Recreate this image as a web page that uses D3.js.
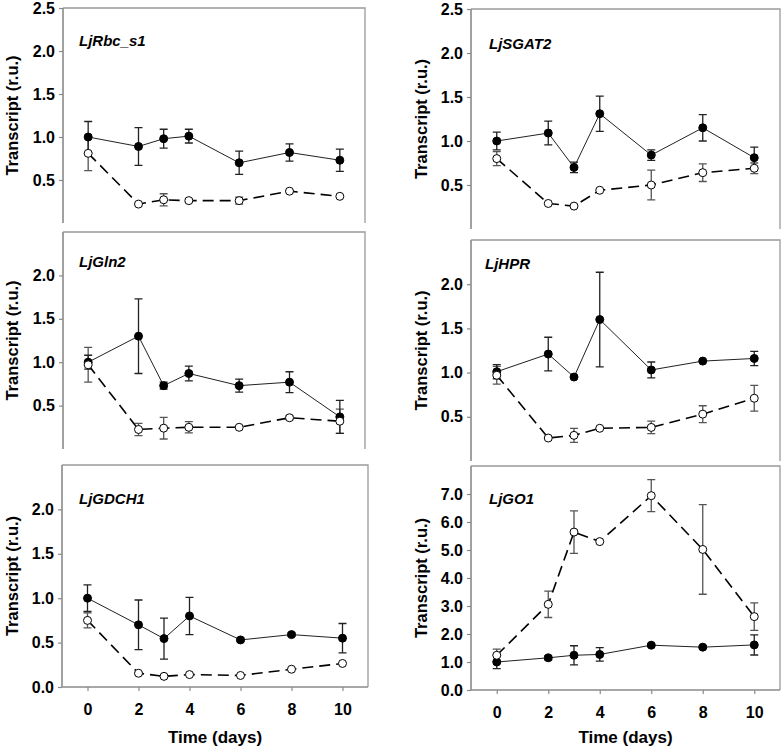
<!DOCTYPE html>
<html>
<head>
<meta charset="utf-8">
<script src="https://cdn.jsdelivr.net/npm/d3@7"></script>
<style>
  html, body { margin: 0; padding: 0; background: #fff; }
  svg { display: block; }
  text { font-family: "Liberation Sans", Arial, sans-serif; }
</style>
</head>
<body>
<svg id="chart" width="784" height="748"></svg>
<script>
// ---- data ----
const days = [0, 2, 3, 4, 6, 8, 10];
const xTicks = [0, 2, 4, 6, 8, 10];

const geneNames = ["LjRbc_s1", "LjSGAT2", "LjGln2", "LjHPR", "LjGDCH1", "LjGO1"];

// filled circles (solid line)
const rbcFilled    = [1.00, 0.89, 0.98, 1.01, 0.70, 0.82, 0.73];
const rbcFilledErr = [0.18, 0.22, 0.11, 0.08, 0.135, 0.10, 0.13];
// open circles (dashed line)
const rbcOpen      = [0.81, 0.22, 0.27, 0.26, 0.26, 0.37, 0.31];
const rbcOpenErr   = [0.20, 0.00, 0.07, 0.02, 0.04, 0.01, 0.00];

const sgatFilled    = [1.00, 1.09, 0.70, 1.31, 0.84, 1.15, 0.81];
const sgatFilledErr = [0.10, 0.135, 0.06, 0.20, 0.06, 0.15, 0.12];
const sgatOpen      = [0.80, 0.29, 0.26, 0.44, 0.50, 0.64, 0.69];
const sgatOpenErr   = [0.08, 0.00, 0.01, 0.00, 0.17, 0.10, 0.06];

const glnFilled    = [1.00, 1.30, 0.73, 0.87, 0.73, 0.77, 0.37];
const glnFilledErr = [0.08, 0.43, 0.04, 0.085, 0.075, 0.12, 0.19];
const glnOpen      = [0.97, 0.225, 0.24, 0.25, 0.25, 0.36, 0.32];
const glnOpenErr   = [0.20, 0.07, 0.125, 0.065, 0.00, 0.02, 0.14];

const hprFilled    = [1.01, 1.21, 0.95, 1.60, 1.03, 1.13, 1.16];
const hprFilledErr = [0.08, 0.19, 0.00, 0.535, 0.09, 0.00, 0.08];
const hprOpen      = [0.97, 0.26, 0.29, 0.37, 0.38, 0.53, 0.71];
const hprOpenErr   = [0.10, 0.00, 0.08, 0.00, 0.07, 0.095, 0.145];

const gdcFilled    = [1.00, 0.70, 0.545, 0.80, 0.53, 0.59, 0.55];
const gdcFilledErr = [0.15, 0.28, 0.23, 0.21, 0.02, 0.02, 0.165];
const gdcOpen      = [0.75, 0.155, 0.12, 0.14, 0.13, 0.20, 0.265];
const gdcOpenErr   = [0.085, 0.01, 0.00, 0.00, 0.00, 0.00, 0.00];

const goFilled    = [1.00, 1.15, 1.24, 1.27, 1.60, 1.53, 1.61];
const goFilledErr = [0.24, 0.07, 0.34, 0.24, 0.05, 0.05, 0.36];
const goOpen      = [1.24, 3.06, 5.64, 5.30, 6.94, 5.02, 2.62];
const goOpenErr   = [0.22, 0.47, 0.76, 0.00, 0.57, 1.60, 0.49];

const yTicksTop = [0.5, 1.0, 1.5, 2.0, 2.5];
const yTicksMid = [0.5, 1.0, 1.5, 2.0];
const yTicksLow = [0.0, 0.5, 1.0, 1.5, 2.0];
const yTicksGO  = [0, 1, 2, 3, 4, 5, 6, 7];

const yLabel = "Transcript (r.u.)";
const xLabel = "Time (days)";

// ---- layout (positions / sizes only) ----
const panels = [
  { name: geneNames[0], f: rbcFilled,  fe: rbcFilledErr,  o: rbcOpen,  oe: rbcOpenErr,  ticks: yTicksTop, ymax: 2.5,
    left: 63,  right: 365, top: 8,   y0: 223, xAxis: false, labelX: 79,  labelY: 45.5, titleX: 12 },
  { name: geneNames[1], f: sgatFilled, fe: sgatFilledErr, o: sgatOpen, oe: sgatOpenErr, ticks: yTicksTop, ymax: 2.5,
    left: 471, right: 780, top: 9,   y0: 229, xAxis: false, labelX: 489, labelY: 48.5, titleX: 421 },
  { name: geneNames[2], f: glnFilled,  fe: glnFilledErr,  o: glnOpen,  oe: glnOpenErr,  ticks: yTicksMid, ymax: 2.5,
    left: 63,  right: 365, top: 232, y0: 449, xAxis: false, labelX: 79,  labelY: 267, titleX: 12 },
  { name: geneNames[3], f: hprFilled,  fe: hprFilledErr,  o: hprOpen,  oe: hprOpenErr,  ticks: yTicksMid, ymax: 2.5,
    left: 471, right: 780, top: 240, y0: 461, xAxis: false, labelX: 485, labelY: 268.5, titleX: 421 },
  { name: geneNames[4], f: gdcFilled,  fe: gdcFilledErr,  o: gdcOpen,  oe: gdcOpenErr,  ticks: yTicksLow, ymax: 2.5,
    left: 62,  right: 368, top: 465, y0: 687, xAxis: true,  labelX: 79,  labelY: 503.5, titleX: 12 },
  { name: geneNames[5], f: goFilled,   fe: goFilledErr,   o: goOpen,   oe: goOpenErr,   ticks: yTicksGO,  ymax: 8,
    left: 471, right: 780, top: 466, y0: 690, xAxis: true,  labelX: 489, labelY: 503.5, titleX: 421 }
];

const svg = d3.select("#chart");
const axisColor = "#8a8a8a";

panels.forEach(p => {
  const x = d3.scaleLinear().domain([-1, 11]).range([p.left, p.right]);
  const y = d3.scaleLinear().domain([0, p.ymax]).range([p.y0, p.top]);
  const g = svg.append("g");

  // frame: top + right border
  g.append("path")
    .attr("d", `M${p.left},${p.top}H${p.right}V${p.y0}`)
    .attr("fill", "none").attr("stroke", "#9a9a9a").attr("stroke-width", 1.3);

  // y axis
  const yAxis = d3.axisLeft(y).tickValues(p.ticks).tickSize(4).tickPadding(4)
    .tickFormat(d3.format(".1f"));
  const ya = g.append("g").attr("transform", `translate(${p.left},0)`).call(yAxis);
  ya.select(".domain").attr("d", `M0,${p.top}V${p.y0}`).attr("stroke", axisColor).attr("stroke-width", 1.6);
  ya.selectAll(".tick line").attr("stroke", axisColor).attr("stroke-width", 1.2);
  ya.selectAll(".tick text").attr("fill", "#000").attr("font-size", 16).attr("font-weight", "bold")
    .attr("font-family", "Liberation Sans, Arial, sans-serif");

  // x axis
  if (p.xAxis) {
    const xAxis = d3.axisBottom(x).tickValues(xTicks).tickSize(4).tickPadding(13).tickFormat(d3.format("d"));
    const xa = g.append("g").attr("transform", `translate(0,${p.y0})`).call(xAxis);
    xa.select(".domain").attr("d", `M${p.left},0H${p.right}`).attr("stroke", axisColor).attr("stroke-width", 1.6);
    xa.selectAll(".tick line").attr("stroke", axisColor).attr("stroke-width", 1.2);
    xa.selectAll(".tick text").attr("fill", "#000").attr("font-size", 16).attr("font-weight", "bold")
      .attr("font-family", "Liberation Sans, Arial, sans-serif");
    g.append("text")
      .attr("x", (x(0) + x(10)) / 2).attr("y", 743)
      .attr("text-anchor", "middle").attr("font-size", 17).attr("font-weight", "bold")
      .text(xLabel);
  }

  // y title
  g.append("text")
    .attr("transform", `translate(${p.titleX + 6},${(p.top + p.y0) / 2}) rotate(-90)`)
    .attr("text-anchor", "middle").attr("font-size", 16.5).attr("font-weight", "bold")
    .text(yLabel);

  // gene label
  g.append("text")
    .attr("x", p.labelX).attr("y", p.labelY)
    .attr("font-size", 15).attr("font-weight", "bold").attr("font-style", "italic")
    .text(p.name);

  const rows = days.map((d, i) => ({ d, f: p.f[i], fe: p.fe[i], o: p.o[i], oe: p.oe[i] }));

  // error bars
  const drawErr = (key, ekey, color) => {
    const eg = g.append("g").attr("stroke", color).attr("stroke-width", 1.3).attr("fill", "none");
    rows.filter(r => r[ekey] > 0.005).forEach(r => {
      const cx = x(r.d), yt = y(r[key] + r[ekey]), yb = y(r[key] - r[ekey]);
      eg.append("path").attr("d",
        `M${cx},${yt}V${yb}M${cx - 4},${yt}H${cx + 4}M${cx - 4},${yb}H${cx + 4}`);
    });
  };
  drawErr("o", "oe", "#555");
  drawErr("f", "fe", "#222");

  // lines
  const lineF = d3.line().x(r => x(r.d)).y(r => y(r.f));
  const lineO = d3.line().x(r => x(r.d)).y(r => y(r.o));
  g.append("path").datum(rows).attr("d", lineF)
    .attr("fill", "none").attr("stroke", "#222").attr("stroke-width", 1);
  g.append("path").datum(rows).attr("d", lineO)
    .attr("fill", "none").attr("stroke", "#000").attr("stroke-width", 1.6)
    .attr("stroke-dasharray", "11,6");

  // markers
  g.selectAll(".mf").data(rows).join("circle")
    .attr("cx", r => x(r.d)).attr("cy", r => y(r.f)).attr("r", 4)
    .attr("fill", "#000").attr("stroke", "#000").attr("stroke-width", 1);
  g.selectAll(".mo").data(rows).join("circle")
    .attr("cx", r => x(r.d)).attr("cy", r => y(r.o)).attr("r", 4)
    .attr("fill", "#fff").attr("stroke", "#000").attr("stroke-width", 1);
});
</script>
</body>
</html>
